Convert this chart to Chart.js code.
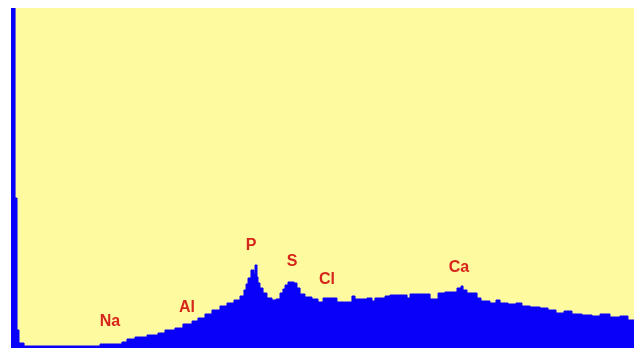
<!DOCTYPE html>
<html>
<head>
<meta charset="utf-8">
<script src="https://cdn.jsdelivr.net/npm/chart.js@4/dist/chart.umd.min.js"></script>
<style>
  html, body { margin: 0; padding: 0; background: #ffffff; }
  canvas { display: block; }
</style>
</head>
<body>
<canvas id="spectrum" width="634" height="348"></canvas>
<script>
// EDS spectrum, step start energies (keV) and counts of each step
const energies = [
  0.000, 0.033, 0.049, 0.065, 0.106, 0.724, 0.902, 0.943, 1.008, 1.106,
  1.195, 1.252, 1.333, 1.398, 1.472, 1.520, 1.577, 1.634, 1.699, 1.756,
  1.813, 1.862, 1.894, 1.911, 1.927, 1.951, 1.976, 1.984, 2.000, 2.008,
  2.024, 2.049, 2.081, 2.122, 2.154, 2.187, 2.211, 2.228, 2.252, 2.301,
  2.325, 2.350, 2.390, 2.447, 2.496, 2.537, 2.593, 2.650, 2.772, 2.797,
  2.894, 2.935, 2.959, 3.041, 3.081, 3.220, 3.244, 3.407, 3.472, 3.528,
  3.626, 3.659, 3.675, 3.707, 3.789, 3.821, 3.894, 3.943, 3.976, 4.041,
  4.106, 4.154, 4.220, 4.301, 4.366, 4.431, 4.496, 4.561, 4.642, 4.724,
  4.789, 4.870, 4.951, 5.016, 5.065
];
const counts = [
  1700, 750, 90, 25, 10, 20, 30, 45, 55, 65,
  75, 90, 100, 120, 135, 150, 170, 190, 210, 225,
  240, 260, 290, 320, 350, 390, 370, 415, 355, 325,
  300, 275, 250, 240, 245, 275, 295, 315, 330, 325,
  300, 270, 255, 245, 230, 250, 250, 230, 260, 245,
  250, 235, 250, 260, 265, 250, 270, 245, 275, 280,
  300, 310, 290, 275, 250, 235, 225, 240, 225, 220,
  225, 210, 205, 200, 190, 175, 185, 170, 165, 160,
  170, 155, 160, 140, 140
];

// element peak labels
const elements = ["Na", "Al", "P", "S", "Cl", "Ca"];
const labelEnergy = [0.805, 1.431, 1.951, 2.285, 2.569, 3.642];
const labelCounts = [130, 200, 510, 430, 340, 400];

const plotBackground = {
  id: "plotBackground",
  beforeDraw(chart) {
    const { ctx, chartArea: a } = chart;
    ctx.save();
    ctx.fillStyle = "#fefa9f";
    ctx.fillRect(a.left, a.top, a.right - a.left, a.bottom - a.top);
    ctx.restore();
  },
};

const peakLabels = {
  id: "peakLabels",
  afterDatasetsDraw(chart) {
    const { ctx, scales } = chart;
    ctx.save();
    ctx.font = "bold 16px 'Liberation Sans', Arial, sans-serif";
    ctx.fillStyle = "#d6261c";
    ctx.textAlign = "center";
    ctx.textBaseline = "middle";
    elements.forEach((name, i) => {
      ctx.fillText(
        name,
        scales.x.getPixelForValue(labelEnergy[i]),
        scales.y.getPixelForValue(labelCounts[i])
      );
    });
    ctx.restore();
  },
};

new Chart(document.getElementById("spectrum"), {
  type: "line",
  data: {
    datasets: [
      {
        data: energies.map((e, i) => ({ x: e, y: counts[i] })),
        stepped: "before", // each count holds until the next energy
        fill: "origin",
        backgroundColor: "#0800f8",
        borderColor: "#0800f8",
        borderWidth: 1,
        pointRadius: 0,
      },
    ],
  },
  options: {
    responsive: false,
    animation: false,
    layout: { padding: { left: 11, top: 8, right: 0, bottom: 0 } },
    plugins: { legend: { display: false }, tooltip: { enabled: false } },
    scales: {
      x: { type: "linear", min: 0, max: 5.065, display: false },
      y: { min: 0, max: 1700, display: false },
    },
  },
  plugins: [plotBackground, peakLabels],
});
</script>
</body>
</html>
